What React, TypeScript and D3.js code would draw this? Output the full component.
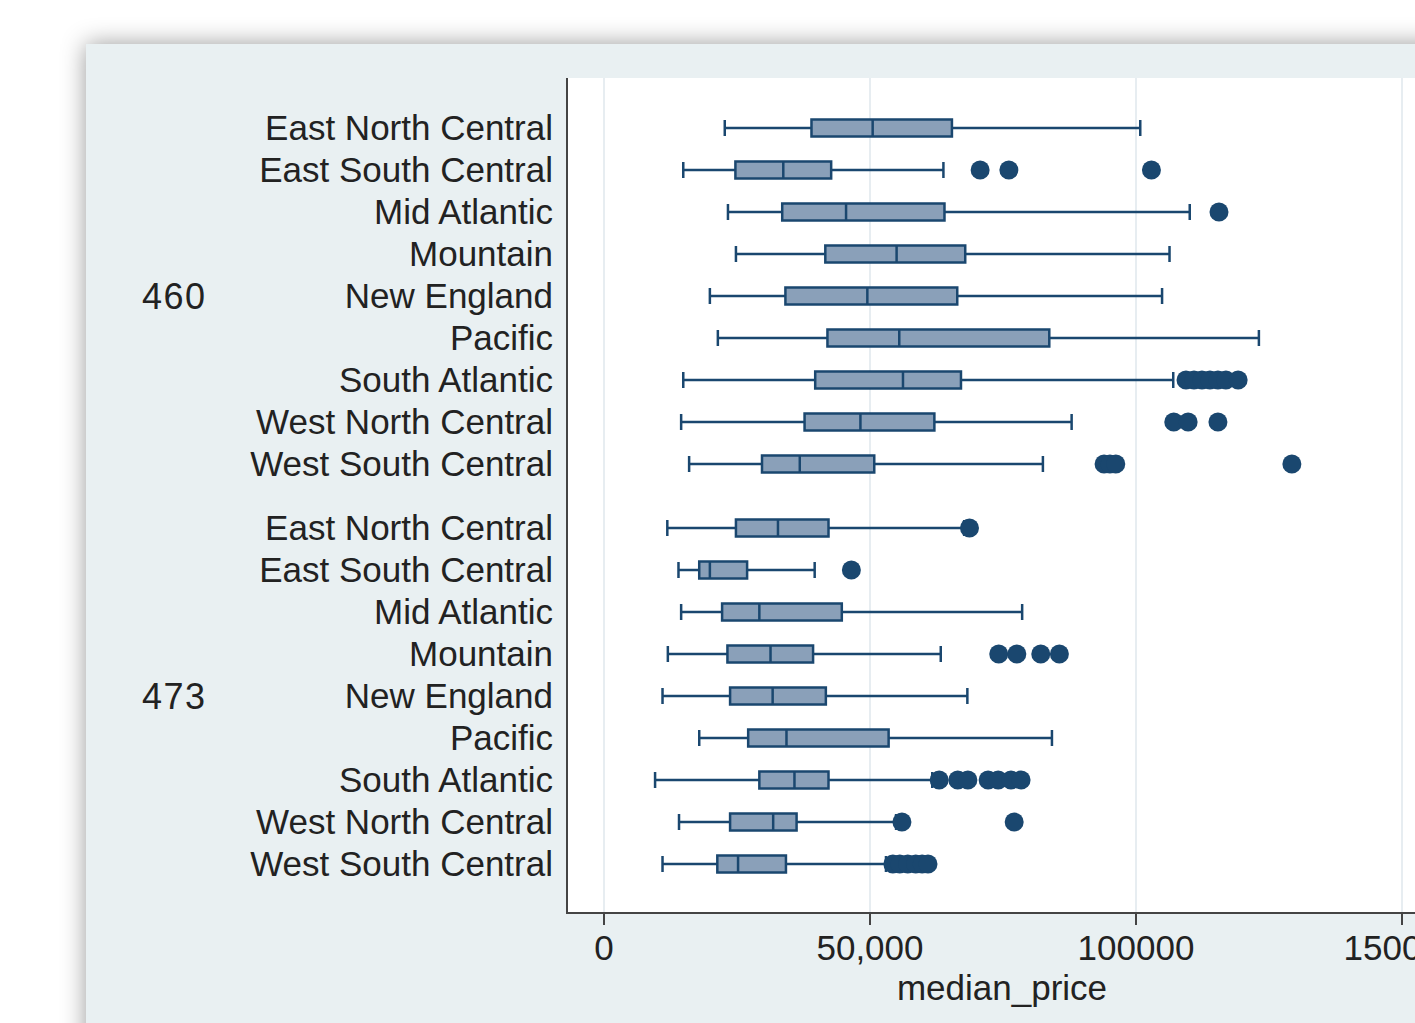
import React, { useEffect, useRef } from "react";
import * as d3 from "d3";

// regions, repeated for each group
const regions = [
  "East North Central",
  "East South Central",
  "Mid Atlantic",
  "Mountain",
  "New England",
  "Pacific",
  "South Atlantic",
  "West North Central",
  "West South Central",
];
const groups = ["460", "473"];

// group 460
const whiskerLow460 = [22700, 14900, 23300, 24800, 19900, 21400, 14900, 14500, 16000];
const q1_460 = [39000, 24700, 33500, 41600, 34100, 42000, 39700, 37700, 29700];
const median460 = [50500, 33700, 45500, 55000, 49500, 55500, 56200, 48200, 36800];
const q3_460 = [65400, 42700, 64000, 67900, 66400, 83700, 67100, 62100, 50800];
const whiskerHigh460 = [100800, 63800, 110100, 106300, 104900, 123100, 107000, 87900, 82500];
const outliers460 = [
  [],
  [70700, 76100, 102900],
  [115600],
  [],
  [],
  [],
  [109400, 110900, 112400, 113900, 115400, 116900, 119200],
  [107100, 109800, 115400],
  [94000, 95100, 96200, 129300],
];

// group 473
const whiskerLow473 = [11900, 14000, 14500, 12000, 11000, 17900, 9600, 14100, 11000];
const q1_473 = [24800, 17900, 22200, 23200, 23700, 27100, 29200, 23700, 21300];
const median473 = [32700, 19900, 29200, 31300, 31700, 34300, 35800, 31800, 25200];
const q3_473 = [42200, 26900, 44700, 39300, 41700, 53500, 42200, 36200, 34200];
const whiskerHigh473 = [67700, 39600, 78600, 63300, 68300, 84200, 61700, 54900, 53000];
const outliers473 = [
  [68700],
  [46500],
  [],
  [74200, 77600, 82100, 85600],
  [],
  [],
  [63000, 66500, 68400, 72200, 74100, 76500, 78400],
  [56000, 77100],
  [54300, 55600, 57100, 58600, 59800, 60900],
];

// x axis ticks
const tickValues = [0, 50000, 100000, 150000];
const tickLabels = ["0", "50,000", "100000", "150000"];

const FONT = "'Liberation Sans', Arial, Helvetica, sans-serif";
const NAVY = "#1a476f";

export default function App() {
  const ref = useRef<SVGSVGElement>(null);

  useEffect(() => {
    const svg = d3.select(ref.current);
    svg.selectAll("*").remove();

    const W = 1415, H = 1023;
    const plot = { left: 567, top: 78, right: 1440, bottom: 913 };

    // drop shadow for the outer panel
    const defs = svg.append("defs");
    const f = defs.append("filter").attr("id", "shadow")
      .attr("x", "-10%").attr("y", "-10%").attr("width", "130%").attr("height", "130%");
    f.append("feDropShadow").attr("dx", 0).attr("dy", 0)
      .attr("stdDeviation", 12).attr("flood-color", "#000").attr("flood-opacity", 0.4);

    svg.append("rect").attr("width", W).attr("height", H).attr("fill", "#fff");
    svg.append("rect")
      .attr("x", 86).attr("y", 44).attr("width", 1500).attr("height", 1200)
      .attr("fill", "#e9f0f2").attr("filter", "url(#shadow)");

    // plot region
    svg.append("rect")
      .attr("x", plot.left).attr("y", plot.top)
      .attr("width", plot.right - plot.left).attr("height", plot.bottom - plot.top)
      .attr("fill", "#fff");

    const x = d3.scaleLinear().domain([0, 150000]).range([604, 1402]);

    // rows: 9 per group, with a gap between groups
    const groupStep = regions.length + 0.524;
    const y = d3.scaleLinear().domain([0, groupStep + regions.length - 1]).range([128, 864]);

    // grid lines
    svg.append("g")
      .selectAll("line")
      .data(tickValues)
      .enter().append("line")
      .attr("x1", d => x(d)).attr("x2", d => x(d))
      .attr("y1", plot.top).attr("y2", plot.bottom)
      .attr("stroke", "#dfe7ec").attr("stroke-width", 1.5);

    const rows: any[] = [];
    const stats = [
      [whiskerLow460, q1_460, median460, q3_460, whiskerHigh460, outliers460],
      [whiskerLow473, q1_473, median473, q3_473, whiskerHigh473, outliers473],
    ];
    groups.forEach((g, gi) => {
      const [lo, q1, med, q3, hi, out] = stats[gi] as any[];
      regions.forEach((r, i) => {
        rows.push({
          group: g, region: r, slot: gi * groupStep + i,
          lo: lo[i], q1: q1[i], med: med[i], q3: q3[i], hi: hi[i], out: out[i],
        });
      });
    });

    const boxH = 17, capH = 16;
    const rowG = svg.append("g")
      .selectAll("g")
      .data(rows)
      .enter().append("g")
      .attr("transform", d => `translate(0,${y(d.slot)})`);

    // whiskers
    rowG.append("line")
      .attr("x1", d => x(d.lo)).attr("x2", d => x(d.q1))
      .attr("stroke", NAVY).attr("stroke-width", 2.5);
    rowG.append("line")
      .attr("x1", d => x(d.q3)).attr("x2", d => x(d.hi))
      .attr("stroke", NAVY).attr("stroke-width", 2.5);
    rowG.append("line")
      .attr("x1", d => x(d.lo)).attr("x2", d => x(d.lo))
      .attr("y1", -capH / 2).attr("y2", capH / 2)
      .attr("stroke", NAVY).attr("stroke-width", 2.5);
    rowG.append("line")
      .attr("x1", d => x(d.hi)).attr("x2", d => x(d.hi))
      .attr("y1", -capH / 2).attr("y2", capH / 2)
      .attr("stroke", NAVY).attr("stroke-width", 2.5);

    // boxes
    rowG.append("rect")
      .attr("x", d => x(d.q1)).attr("width", d => x(d.q3) - x(d.q1))
      .attr("y", -boxH / 2).attr("height", boxH)
      .attr("fill", "#8aa0b9").attr("stroke", NAVY).attr("stroke-width", 2.5);
    rowG.append("line")
      .attr("x1", d => x(d.med)).attr("x2", d => x(d.med))
      .attr("y1", -boxH / 2).attr("y2", boxH / 2)
      .attr("stroke", NAVY).attr("stroke-width", 2.5);

    // outside values
    rowG.selectAll("circle")
      .data(d => d.out)
      .enter().append("circle")
      .attr("cx", (d: any) => x(d)).attr("cy", 0).attr("r", 9.5)
      .attr("fill", NAVY);

    // axis lines
    svg.append("line")
      .attr("x1", plot.left).attr("x2", plot.left)
      .attr("y1", plot.top).attr("y2", plot.bottom + 1)
      .attr("stroke", "#444").attr("stroke-width", 2);
    svg.append("line")
      .attr("x1", plot.left).attr("x2", plot.right)
      .attr("y1", plot.bottom).attr("y2", plot.bottom)
      .attr("stroke", "#444").attr("stroke-width", 2);

    // x ticks and labels
    const ticks = svg.append("g").selectAll("g")
      .data(tickValues)
      .enter().append("g")
      .attr("transform", d => `translate(${x(d)},${plot.bottom})`);
    ticks.append("line").attr("y1", 0).attr("y2", 12)
      .attr("stroke", "#444").attr("stroke-width", 2);
    ticks.append("text")
      .attr("y", 35)
      .attr("dy", "0.35em")
      .attr("text-anchor", "middle")
      .style("font-family", FONT).style("font-size", "35px").attr("fill", "#222")
      .text((d, i) => tickLabels[i]);

    // x axis title
    svg.append("text")
      .attr("x", 1002).attr("y", 988).attr("dy", "0.35em")
      .attr("text-anchor", "middle")
      .style("font-family", FONT).style("font-size", "35px").attr("fill", "#222")
      .text("median_price");

    // row labels
    svg.append("g").selectAll("text")
      .data(rows)
      .enter().append("text")
      .attr("x", 553).attr("y", d => y(d.slot)).attr("dy", "0.35em")
      .attr("text-anchor", "end")
      .style("font-family", FONT).style("font-size", "35px").attr("fill", "#222")
      .text(d => d.region);

    // group labels
    svg.append("g").selectAll("text")
      .data(groups)
      .enter().append("text")
      .attr("x", 142).attr("y", (d, i) => y(i * groupStep + 4)).attr("dy", "0.35em")
      .style("font-family", FONT).style("font-size", "36px").style("letter-spacing", "1.5px")
      .attr("fill", "#222")
      .text(d => d);
  }, []);

  return (
    <div style={{ position: "absolute", left: 0, top: 0, width: 1415, height: 1023, overflow: "hidden" }}>
      <svg ref={ref} width={1415} height={1023} />
    </div>
  );
}
